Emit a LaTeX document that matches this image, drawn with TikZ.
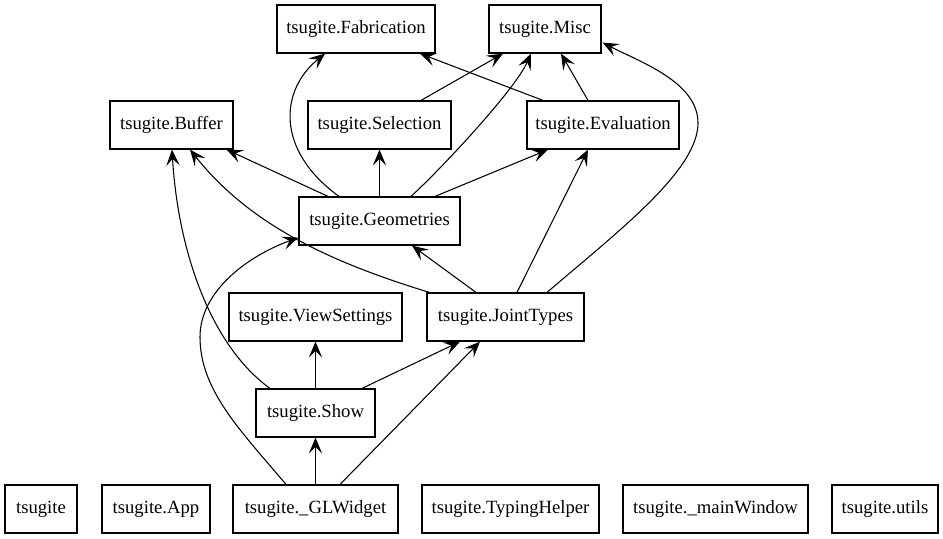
\documentclass[tikz,border=0pt]{standalone}
\usepackage{fontspec}
\setmainfont{Liberation Serif}
\usetikzlibrary{arrows.meta,calc}
\begin{document}
\begin{tikzpicture}[x=0.75pt,y=-0.75pt,
  box/.style={draw,line width=0.9pt,inner sep=0pt,minimum height=48*0.75pt,font=\fontsize{14pt}{16pt}\selectfont},
  dep/.style={line width=0.8pt,-{Stealth[length=12pt,width=10pt,inset=5pt]}}]
\useasboundingbox (0,0) rectangle (943,539);
% nodes
\node[box,minimum width=158*0.75pt] (fab) at (356,29) {tsugite.Fabrication};
\node[box,minimum width=112*0.75pt] (misc) at (545,29) {tsugite.Misc};
\node[box,minimum width=123*0.75pt] (buf) at (171.5,125) {tsugite.Buffer};
\node[box,minimum width=143*0.75pt] (sel) at (379.5,125) {tsugite.Selection};
\node[box,minimum width=152*0.75pt] (eval) at (603,125) {tsugite.Evaluation};
\node[box,minimum width=161*0.75pt] (geo) at (379.5,221) {tsugite.Geometries};
\node[box,minimum width=173*0.75pt] (vs) at (315.5,317) {tsugite.ViewSettings};
\node[box,minimum width=157*0.75pt] (jt) at (505.5,317) {tsugite.JointTypes};
\node[box,minimum width=119*0.75pt] (show) at (315.5,413) {tsugite.Show};
\node[box,minimum width=72*0.75pt] (ts) at (41,509) {tsugite};
\node[box,minimum width=108*0.75pt] (app) at (156,509) {tsugite.App};
\node[box,minimum width=165*0.75pt] (gl) at (315.5,509) {tsugite.\_GLWidget};
\node[box,minimum width=177*0.75pt] (th) at (510.5,509) {tsugite.TypingHelper};
\node[box,minimum width=185*0.75pt] (mw) at (715.5,509) {tsugite.\_mainWindow};
\node[box,minimum width=106*0.75pt] (ut) at (885,509) {tsugite.utils};
% edges
\draw[dep] ($(geo.north)+(-40.5,0)$) .. controls (275,150) and (280,90) .. ($(fab.south)+(-31,0)$);
\draw[dep] ($(eval.north)+(-60,0)$) -- ($(fab.south)+(64,0)$);
\draw[dep] ($(sel.north)+(41.5,0)$) -- ($(misc.south)+(-42,0)$);
\draw[dep] ($(geo.north)+(31.5,0)$) .. controls (440,170) and (515,90) .. ($(misc.south)+(-14,0)$);
\draw[dep] ($(eval.north)+(-15,0)$) -- ($(misc.south)+(16,0)$);
\draw[dep] ($(jt.north)+(41.5,0)$) .. controls (620,230) and (698,170) .. (698,123) .. controls (698,82) and (640,62) .. ($(misc.south east)+(1,-11)$);
\draw[dep] ($(geo.north)+(-51.5,0)$) -- ($(buf.south east)+(-7,0)$);
\draw[dep] (geo.north) -- (sel.south);
\draw[dep] ($(geo.north)+(55.5,0)$) -- ($(eval.south)+(-55,0)$);
\draw[dep] ($(jt.north west)+(3,0)$) .. controls (330,262) and (250,225) .. ($(buf.south)+(18.5,0)$);
\draw[dep] ($(jt.north)+(-29.5,0)$) -- ($(geo.south)+(32.5,0)$);
\draw[dep] ($(jt.north)+(11.5,0)$) -- ($(eval.south)+(-15,0)$);
\draw[dep] ($(show.north)+(-45.5,0)$) .. controls (210,345) and (178,250) .. ($(buf.south)+(0.5,0)$);
\draw[dep] (show.north) -- (vs.south);
\draw[dep] ($(show.north)+(46.5,0)$) -- ($(jt.south)+(-45.5,0)$);
\draw[dep] (gl.north) -- (show.south);
\draw[dep] ($(gl.north)+(24.5,0)$) -- ($(jt.south)+(-25.5,0)$);
\draw[dep] ($(gl.north)+(-29.5,0)$) .. controls (240,430) and (200,390) .. (200,337) .. controls (200,290) and (250,255) .. ($(geo.south west)+(0,-8)$);
\end{tikzpicture}
\end{document}
